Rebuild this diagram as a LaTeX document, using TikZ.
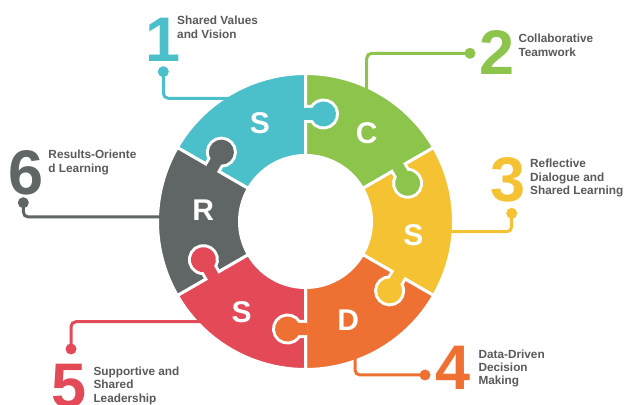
\documentclass[tikz,border=0pt]{standalone}
\usepackage{fontspec}
\setmainfont{Liberation Sans}
\definecolor{cteal}{HTML}{4BC0CA}
\definecolor{cgreen}{HTML}{8DC44C}
\definecolor{cyellow}{HTML}{F5C234}
\definecolor{corange}{HTML}{EE7032}
\definecolor{cred}{HTML}{E44958}
\definecolor{cgray}{HTML}{606566}
\definecolor{txtgray}{HTML}{5A5A5A}
\begin{document}
\begin{tikzpicture}[x=1pt,y=1pt,
  callout/.style={line width=3pt, rounded corners=5pt},
  dotnode/.style={circle, minimum size=11pt, inner sep=0pt},
  numlabel/.style={font=\fontsize{63}{63}\selectfont\bfseries, inner sep=0pt, anchor=base},
  desc/.style={font=\fontsize{11.8}{13.3}\selectfont\bfseries, text=txtgray, align=left, anchor=north west, inner sep=0pt},
  letter/.style={font=\fontsize{30}{30}\selectfont\bfseries, text=white, inner sep=0pt}]
\useasboundingbox (0,0) rectangle (625,405);
\fill[white] (0,0) rectangle (625,405);

% ring
\begin{scope}[shift={(305.5,183.5)}]
  \foreach \a/\col in {90/cteal, 30/cgreen, -30/cyellow, -90/corange, -150/cred, 150/cgray}{
    \filldraw[fill=\col, draw=white, line width=3pt]
      (\a:66pt) -- (\a:148pt) arc[start angle=\a, end angle=\a+60, radius=148pt]
      -- (\a+60:66pt) arc[start angle=\a+60, end angle=\a, radius=66pt] -- cycle;
  }
  \foreach \a/\col in {90/cteal, 30/cgreen, -30/cyellow, -90/corange, -150/cred, 150/cgray}{
    \begin{scope}[shift={(\a:107.5pt)}, rotate=\a-90]
      \draw[white, line width=6pt] (0,-6) -- (7.03,-6)
        arc[start angle=-151.3, end angle=151.3, radius=12.5pt] -- (0,6);
      \fill[\col] (-2,-6) -- (7.03,-6)
        arc[start angle=-151.3, end angle=151.3, radius=12.5pt] -- (-2,6) -- cycle;
    \end{scope}
  }
\end{scope}

% letters
\node[letter] (l1) at (260,281.7) {S};
\node[letter] (l2) at (366.7,271.7) {C};
\node[letter] (l3) at (413.3,170) {S};
\node[letter] (l4) at (348.3,85) {D};
\node[letter] (l5) at (241.7,93.3) {S};
\node[letter] (l6) at (203.3,195) {R};

% callout ends
\coordinate (e1) at (239,306.7);
\coordinate (e2) at (366.7,309.4);
\coordinate (e3) at (445.1,173.3);
\coordinate (e4) at (355,52.5);
\coordinate (e5) at (207.7,83.3);
\coordinate (e6) at (165.6,188);

% dots
\node[dotnode, fill=cteal] (d1) at (163.3,333.3) {};
\node[dotnode, fill=cgreen] (d2) at (470,351.7) {};
\node[dotnode, fill=cyellow] (d3) at (511.7,191.7) {};
\node[dotnode, fill=corange] (d4) at (425,30) {};
\node[dotnode, fill=cred] (d5) at (71,56) {};
\node[dotnode, fill=cgray] (d6) at (23.3,202.3) {};

\draw[callout, cteal] (d1.center) -- (163.3,306.7) -- (e1);
\draw[callout, cgreen] (d2.center) -- (366.7,351.7) -- (e2);
\draw[callout, cyellow] (d3.center) -- (511.7,173.3) -- (e3);
\draw[callout, corange] (d4.center) -- (355,30) -- (e4);
\draw[callout, cred] (d5.center) -- (71,83.3) -- (e5);
\draw[callout, cgray] (d6.center) -- (23.3,188) -- (e6);

% numbers
\node[numlabel, text=cteal] (n1) at (163,343) {1};
\node[numlabel, text=cgreen] (n2) at (496.7,330) {2};
\node[numlabel, text=cyellow] (n3) at (508.5,203) {3};
\node[numlabel, text=corange] (n4) at (453,15) {4};
\node[numlabel, text=cred] (n5) at (69.5,-2) {5};
\node[numlabel, text=cgray] (n6) at (26,210) {6};

% descriptions
\node[desc] (t1) at (177,389) {Shared Values\\and Vision};
\node[desc] (t2) at (518.3,371) {Collaborative\\Teamwork};
\node[desc] (t3) at (530,246) {Reflective\\Dialogue and\\Shared Learning};
\node[desc] (t4) at (478.3,55.7) {Data-Driven\\Decision\\Making};
\node[desc] (t5) at (93.3,38.3) {Supportive and\\Shared\\Leadership};
\node[desc] (t6) at (48.3,255) {Results-Oriente\\d Learning};
\end{tikzpicture}
\end{document}
